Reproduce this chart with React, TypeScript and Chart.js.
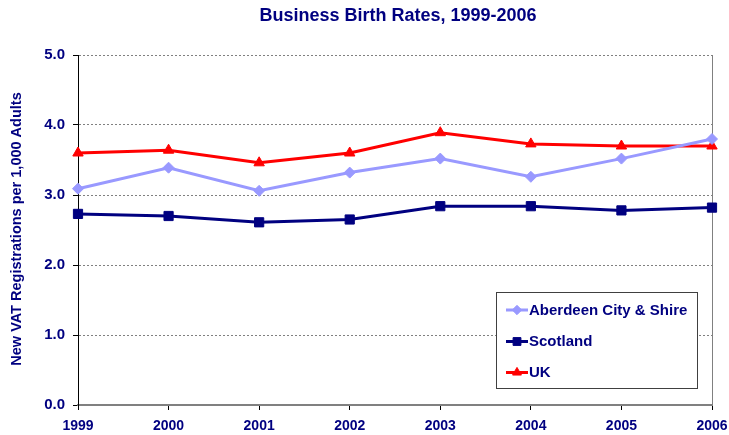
import React, { useEffect, useRef } from 'react';
import { Chart, registerables } from 'chart.js';

Chart.register(...registerables);

const years = ['1999', '2000', '2001', '2002', '2003', '2004', '2005', '2006'];
const aberdeen = [3.09, 3.39, 3.06, 3.32, 3.52, 3.26, 3.52, 3.8];
const scotland = [2.73, 2.7, 2.61, 2.65, 2.84, 2.84, 2.78, 2.82];
const uk = [3.6, 3.64, 3.46, 3.6, 3.89, 3.73, 3.7, 3.7];
const seriesNames = ['Aberdeen City & Shire', 'Scotland', 'UK'];
const chartTitle = 'Business Birth Rates, 1999-2006';
const yAxisTitle = 'New VAT Registrations per 1,000 Adults';
const yMin = 0;
const yMax = 5;
const yStep = 1;

const NAVY = '#000080';
const FONT = '"Liberation Sans", Arial, sans-serif';

function drawMarker(ctx: CanvasRenderingContext2D, style: string, x: number, y: number, r: number) {
  ctx.beginPath();
  if (style === 'rect') {
    const s = Math.SQRT1_2 * r;
    ctx.rect(x - s, y - s, 2 * s, 2 * s);
  } else if (style === 'rectRot') {
    ctx.moveTo(x, y - r);
    ctx.lineTo(x + r, y);
    ctx.lineTo(x, y + r);
    ctx.lineTo(x - r, y);
    ctx.closePath();
  } else {
    const h = r;
    ctx.moveTo(x, y - h);
    ctx.lineTo(x + h * Math.cos(Math.PI / 6), y + h / 2);
    ctx.lineTo(x - h * Math.cos(Math.PI / 6), y + h / 2);
    ctx.closePath();
  }
  ctx.fill();
  ctx.stroke();
}

const decorPlugin = {
  id: 'decor',
  beforeDatasetsDraw(chart: any) {
    const { ctx, chartArea: a } = chart;
    ctx.save();
    ctx.strokeStyle = '#808080';
    ctx.lineWidth = 1;
    ctx.beginPath();
    ctx.moveTo(a.right + 0.5, a.top);
    ctx.lineTo(a.right + 0.5, a.bottom);
    ctx.stroke();
    ctx.restore();
  },
  afterDraw(chart: any) {
    const { ctx, chartArea: a } = chart;
    ctx.save();
    // title
    ctx.fillStyle = NAVY;
    ctx.font = `bold 18px ${FONT}`;
    ctx.textAlign = 'center';
    ctx.textBaseline = 'middle';
    ctx.fillText(chartTitle, (a.left + a.right) / 2 + 3, 16.5);
    // y axis title
    ctx.save();
    ctx.translate(17, (a.top + a.bottom) / 2 - 1);
    ctx.rotate(-Math.PI / 2);
    ctx.font = `bold 14.5px ${FONT}`;
    ctx.fillText(yAxisTitle, 0, 0);
    ctx.restore();

    // legend
    const bx = a.right - 216;
    const by = a.bottom - 113;
    const bw = 201;
    const bh = 96;
    ctx.fillStyle = '#ffffff';
    ctx.fillRect(bx, by, bw, bh);
    ctx.strokeStyle = '#404040';
    ctx.lineWidth = 1;
    ctx.strokeRect(bx + 0.5, by + 0.5, bw, bh);
    const rowsY = [by + 18, by + 49.5, by + 80.5];
    chart.data.datasets.forEach((ds: any, i: number) => {
      const y = rowsY[i];
      const x1 = bx + 10;
      const x2 = bx + 32;
      ctx.strokeStyle = ds.borderColor;
      ctx.lineWidth = 3;
      ctx.beginPath();
      ctx.moveTo(x1, y);
      ctx.lineTo(x2, y);
      ctx.stroke();
      ctx.fillStyle = ds.backgroundColor;
      ctx.strokeStyle = ds.borderColor;
      ctx.lineWidth = 1;
      drawMarker(ctx, ds.pointStyle, (x1 + x2) / 2, y, ds.pointRadius * 0.85);
      ctx.fillStyle = NAVY;
      ctx.font = `bold 15px ${FONT}`;
      ctx.textAlign = 'left';
      ctx.textBaseline = 'middle';
      ctx.fillText(ds.label, x2 + 1, y + 0.5);
    });
    ctx.restore();
  },
};

export default function App() {
  const ref = useRef<HTMLCanvasElement>(null);

  useEffect(() => {
    const canvas = ref.current;
    if (!canvas) return;
    const chart = new Chart(canvas, {
      type: 'line',
      data: {
        labels: years,
        datasets: [
          {
            label: seriesNames[0],
            data: aberdeen,
            borderColor: '#9999FF',
            backgroundColor: '#9999FF',
            borderWidth: 3,
            pointStyle: 'rectRot',
            pointRadius: 5.5,
            pointBorderWidth: 1,
            tension: 0,
          },
          {
            label: seriesNames[1],
            data: scotland,
            borderColor: NAVY,
            backgroundColor: NAVY,
            borderWidth: 3,
            pointStyle: 'rect',
            pointRadius: 6.5,
            pointBorderWidth: 1,
            tension: 0,
          },
          {
            label: seriesNames[2],
            data: uk,
            borderColor: '#FF0000',
            backgroundColor: '#FF0000',
            borderWidth: 3,
            pointStyle: 'triangle',
            pointRadius: 6,
            pointBorderWidth: 1,
            tension: 0,
          },
        ],
      },
      options: {
        responsive: false,
        animation: false,
        layout: { padding: { top: 55, right: 17, left: 0, bottom: 0 } },
        plugins: {
          legend: { display: false },
          title: { display: false },
          tooltip: { enabled: false },
        },
        scales: {
          x: {
            type: 'category',
            offset: false,
            afterFit(scale: any) {
              scale.height = 30;
              scale.paddingLeft = 0;
              scale.paddingRight = 0;
            },
            grid: {
              display: true,
              drawOnChartArea: false,
              drawTicks: true,
              tickLength: 5,
              tickColor: '#000000',
              tickWidth: 1,
            },
            border: { display: true, color: '#808080', width: 2 },
            ticks: {
              color: NAVY,
              font: { family: FONT, size: 14, weight: 'bold' },
              padding: 8,
              maxRotation: 0,
              autoSkip: false,
            },
          },
          y: {
            min: yMin,
            max: yMax,
            afterFit(scale: any) {
              scale.width = 78;
              scale.paddingTop = 0;
              scale.paddingBottom = 0;
            },
            grid: {
              color: '#808080',
              lineWidth: 1,
              drawTicks: true,
              tickLength: 5,
              tickColor: '#000000',
              tickWidth: 1,
              tickBorderDash: [],
            },
            border: { display: true, color: '#000000', width: 1, dash: [2, 2] },
            ticks: {
              stepSize: yStep,
              color: NAVY,
              font: { family: FONT, size: 15, weight: 'bold' },
              padding: 8,
              callback: (v: any) => Number(v).toFixed(1),
            },
          },
        },
      } as any,
      plugins: [decorPlugin],
    });
    return () => chart.destroy();
  }, []);

  return (
    <div style={{ position: 'absolute', left: 0, top: 0, width: 729, height: 435, background: '#fff' }}>
      <canvas ref={ref} width={729} height={435} />
    </div>
  );
}
